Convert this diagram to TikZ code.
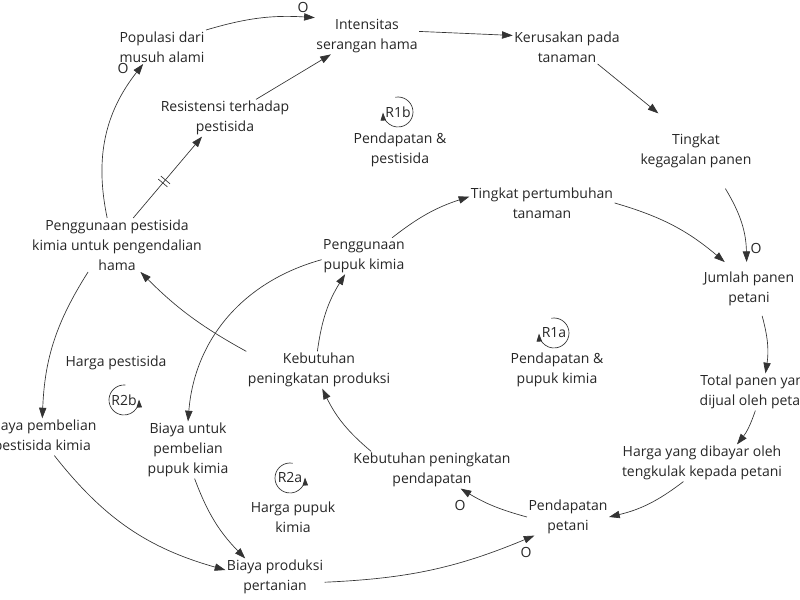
\documentclass[tikz,border=0pt]{standalone}
\usepackage{fontspec}
\setmainfont{Open Sans}
\usepackage{tikz}
\usetikzlibrary{arrows.meta, decorations.markings}
\tikzstyle{var} = [align=center, inner sep=1pt, text=black!85, font=\fontsize{10.5}{15}\selectfont]
\tikzstyle{pol} = [inner sep=0pt, text=black!85, font=\fontsize{10.5}{15}\selectfont]
\tikzstyle{loopname} = [inner sep=0pt, text=black!85, font=\fontsize{10.5}{15}\selectfont]
\tikzstyle{link} = [draw=black!80, line width=0.5pt, -{Triangle[length=8pt,width=5.5pt]}]
\tikzstyle{looparc} = [draw=black!80, line width=0.5pt, -{Triangle[length=6pt,width=4pt]}]
\tikzstyle{delaymark} = [decoration={markings, mark=at position 0.45 with {\draw[-] (-1.5pt,-4.5pt) -- (-1.5pt,4.5pt) (1.5pt,-4.5pt) -- (1.5pt,4.5pt);}}, postaction=decorate]

\begin{document}
\begin{tikzpicture}[x=0.75pt, y=0.75pt]
\useasboundingbox (0,0) rectangle (800,600);
\node[var] (pop) at (162,553) {Populasi dari\\musuh alami};
\node[var] (int) at (367,564) {Intensitas\\serangan hama};
\node[var] (ker) at (567,553) {Kerusakan pada\\tanaman};
\node[var, minimum width=90pt, minimum height=56pt] (gag) at (696,449) {Tingkat\\kegagalan panen};
\node[var] (res) at (225,482) {Resistensi terhadap\\pestisida};
\node[var] (tum) at (542,397) {Tingkat pertumbuhan\\tanaman};
\node[var] (pest) at (117,355) {Penggunaan pestisida\\kimia untuk pengendalian\\hama};
\node[var] (pup) at (364,344) {Penggunaan\\pupuk kimia};
\node[var, minimum width=70pt, minimum height=40pt] (jum) at (749,311) {Jumlah panen\\petani};
\node[var] (kprod) at (319,230) {Kebutuhan\\peningkatan produksi};
\node[var] (tot) at (756,208) {Total panen yang\\dijual oleh petani};
\node[var, anchor=east] (bpest) at (98,163) {Biaya pembelian\\pestisida kimia};
\node[var] (bpup) at (188,150) {Biaya untuk\\pembelian\\pupuk kimia};
\node[var] (harga) at (702,137) {Harga yang dibayar oleh\\tengkulak kepada petani};
\node[var] (kpend) at (432,130) {Kebutuhan peningkatan\\pendapatan};
\node[var] (pend) at (568,83) {Pendapatan\\petani};
\node[var] (bprod) at (275,23) {Biaya produksi\\pertanian};
\node[var] (hpest) at (116,237) {Harga pestisida};
\node[var] (hpup) at (293,83) {Harga pupuk\\kimia};
\node[var] (nr1b) at (400,450) {Pendapatan \&\\pestisida};
\node[var] (nr1a) at (557,230) {Pendapatan \&\\pupuk kimia};

\node[loopname] (r1b) at (398,488) {R1b};
\node[loopname] (r1a) at (554,267) {R1a};
\node[loopname] (r2b) at (124,200) {R2b};
\node[loopname] (r2a) at (290,122) {R2a};
\draw[looparc] ([shift={(100:15)}]r1b.center) arc[start angle=100, end angle=-178, radius=15];
\draw[looparc] ([shift={(100:15)}]r1a.center) arc[start angle=100, end angle=-178, radius=15];
\draw[looparc] ([shift={(85:15)}]r2b.center) arc[start angle=85, end angle=362, radius=15];
\draw[looparc] ([shift={(80:15)}]r2a.center) arc[start angle=80, end angle=362, radius=15];

\node[pol] (o1) at (303,593) {O};
\node[pol] (o2) at (123,532) {O};
\node[pol] (o3) at (756,352) {O};
\node[pol] (o4) at (460,95) {O};
\node[pol] (o5) at (526,48) {O};

\draw[link] (pop.north east) to[bend left=10] (int.north west);
\draw[link] (res.31) -- (int.-153);
\draw[link] (int.5) -- (ker.168);
\draw[link] (ker.-29) -- (gag.135);
\draw[link] (gag.-52) to[bend left=15] (jum.95);
\draw[link] (tum.east) to[bend left=12] (jum.132);
\draw[link] (jum.-64) to[bend left=12] (tot.63);
\draw[link] (tot.-92) to[bend left=10] (harga.28);
\draw[link] (harga.-135) to[bend left=12] (pend.east);
\draw[link] (pend.west) to[bend left=8] (kpend.-33);
\draw[link] (kpend.163) to[bend left=12] (kprod.-80);
\draw[link] (kprod.95) to[bend left=12] (pup.-136);
\draw[link] (kprod.north west) to[bend left=8] (pest.-49);
\draw[link] (pup.33) to[bend left=10] (tum.175);
\draw[link] (pup.185) to[bend right=35] (bpup.north);
\draw[link] (pest.110) to[bend left=25] (pop.-138);
\draw[link, delaymark] (pest.59) -- (res.-141);
\draw[link] (pest.-137) to[bend right=15] (bpest.north);
\draw[link] (bpest.-57) to[bend right=18] (bprod.172);
\draw[link] (bpup.-77) to[bend right=12] (bprod.148);
\draw[link] (bprod.-6) to[bend right=10] (pend.-151);
\end{tikzpicture}
\end{document}
